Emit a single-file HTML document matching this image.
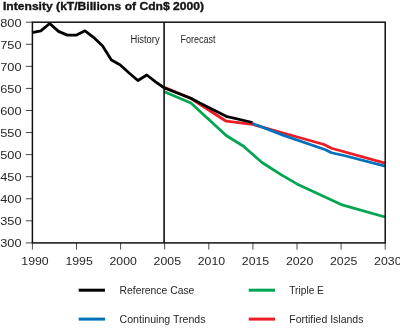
<!DOCTYPE html>
<html><head><meta charset="utf-8">
<style>
html,body{margin:0;padding:0;background:#fff;}
body{width:400px;height:333px;overflow:hidden;}
svg{display:block;will-change:transform;}
text{font-family:"Liberation Sans",sans-serif;fill:#151515;}
.t{fill:#262626;}
.b{stroke:#151515;stroke-width:0.35;}
</style></head>
<body>
<svg width="400" height="333" viewBox="0 0 400 333">

<text class="b" x="3" y="10.1" font-size="11" font-weight="bold" textLength="201" lengthAdjust="spacingAndGlyphs">Intensity (kT/Billions of Cdn$ 2000)</text>
<text class="t" x="21.5" y="26.7" font-size="11" text-anchor="end" textLength="21.3" lengthAdjust="spacingAndGlyphs">800</text>
<text class="t" x="21.5" y="48.77" font-size="11" text-anchor="end" textLength="21.3" lengthAdjust="spacingAndGlyphs">750</text>
<text class="t" x="21.5" y="70.84" font-size="11" text-anchor="end" textLength="21.3" lengthAdjust="spacingAndGlyphs">700</text>
<text class="t" x="21.5" y="92.91" font-size="11" text-anchor="end" textLength="21.3" lengthAdjust="spacingAndGlyphs">650</text>
<text class="t" x="21.5" y="114.98" font-size="11" text-anchor="end" textLength="21.3" lengthAdjust="spacingAndGlyphs">600</text>
<text class="t" x="21.5" y="137.05" font-size="11" text-anchor="end" textLength="21.3" lengthAdjust="spacingAndGlyphs">550</text>
<text class="t" x="21.5" y="159.12" font-size="11" text-anchor="end" textLength="21.3" lengthAdjust="spacingAndGlyphs">500</text>
<text class="t" x="21.5" y="181.19" font-size="11" text-anchor="end" textLength="21.3" lengthAdjust="spacingAndGlyphs">450</text>
<text class="t" x="21.5" y="203.26" font-size="11" text-anchor="end" textLength="21.3" lengthAdjust="spacingAndGlyphs">400</text>
<text class="t" x="21.5" y="225.33" font-size="11" text-anchor="end" textLength="21.3" lengthAdjust="spacingAndGlyphs">350</text>
<text class="t" x="21.5" y="247.4" font-size="11" text-anchor="end" textLength="21.3" lengthAdjust="spacingAndGlyphs">300</text>
<text class="t" x="35.0" y="265" font-size="11" text-anchor="middle" textLength="27.4" lengthAdjust="spacingAndGlyphs">1990</text>
<text class="t" x="79.1" y="265" font-size="11" text-anchor="middle" textLength="27.4" lengthAdjust="spacingAndGlyphs">1995</text>
<text class="t" x="123.2" y="265" font-size="11" text-anchor="middle" textLength="27.4" lengthAdjust="spacingAndGlyphs">2000</text>
<text class="t" x="167.3" y="265" font-size="11" text-anchor="middle" textLength="27.4" lengthAdjust="spacingAndGlyphs">2005</text>
<text class="t" x="211.4" y="265" font-size="11" text-anchor="middle" textLength="27.4" lengthAdjust="spacingAndGlyphs">2010</text>
<text class="t" x="255.5" y="265" font-size="11" text-anchor="middle" textLength="27.4" lengthAdjust="spacingAndGlyphs">2015</text>
<text class="t" x="299.6" y="265" font-size="11" text-anchor="middle" textLength="27.4" lengthAdjust="spacingAndGlyphs">2020</text>
<text class="t" x="343.7" y="265" font-size="11" text-anchor="middle" textLength="27.4" lengthAdjust="spacingAndGlyphs">2025</text>
<text class="t" x="387.8" y="265" font-size="11" text-anchor="middle" textLength="27.4" lengthAdjust="spacingAndGlyphs">2030</text>
<g stroke="#4a4a4a" stroke-width="1.0" fill="none"><path d="M25.8 22.20H32.4M25.8 44.27H32.4M25.8 66.34H32.4M25.8 88.41H32.4M25.8 110.48H32.4M25.8 132.55H32.4M25.8 154.62H32.4M25.8 176.69H32.4M25.8 198.76H32.4M25.8 220.83H32.4M25.8 242.90H32.4"/><path d="M32.40 242.9V249.6M76.50 242.9V249.6M120.60 242.9V249.6M164.70 242.9V249.6M208.80 242.9V249.6M252.90 242.9V249.6M297.00 242.9V249.6M341.10 242.9V249.6M385.20 242.9V249.6"/></g>
<g fill="none" stroke-width="2.8" stroke-linejoin="round">
<polyline stroke="#00a651" points="164.4,91.75 190.9,103.0 226.2,135.5 243.5,146.2 262,162.5 281,174.6 296.9,183.9 341.2,204.6 385,217.0"/>
<polyline stroke="#ed1c24" points="164.4,87.3 190.9,98.5 226.2,121.2 252.6,124.3 285,133.5 324,144.5 331.5,148.25 345,152 385,163.2"/>
<polyline stroke="#0072bc" points="252.6,123.5 285,135.9 325.5,149.75 331.5,152.75 345,155.75 385,166.2"/>
<polyline stroke="#000000" points="32,32.7 40.8,30.9 49.7,23.5 58.5,31.4 67.3,35.1 76.1,35.2 85,30.8 93.8,37.6 102.6,46 111.4,60 120.3,65 129.1,73 137.9,80.5 146.8,75 155.6,81.8 164.4,88.0 190.9,98.3 199.7,103 226.2,116.3 252.6,122.5"/>
</g>
<g stroke="#111111" stroke-width="1.5" fill="none"><rect x="32.4" y="22.2" width="352.8" height="220.70000000000002"/><path d="M164.1 22.2V242.9" stroke-width="1.6"/></g>
<text class="t" x="130.4" y="42.9" font-size="10" textLength="29.2" lengthAdjust="spacingAndGlyphs">History</text>
<text class="t" x="180.5" y="42.9" font-size="10" textLength="35.0" lengthAdjust="spacingAndGlyphs">Forecast</text>
<g stroke-width="3">
<path stroke="#000000" d="M78.7 290.2H105"/>
<path stroke="#0072bc" d="M78.7 319.1H105"/>
<path stroke="#00a651" d="M248.7 290.2H275"/>
<path stroke="#ed1c24" d="M248.7 319.1H275"/>
</g>
<text class="t" x="119.5" y="294.3" font-size="11" textLength="74.9" lengthAdjust="spacingAndGlyphs">Reference Case</text>
<text class="t" x="119.5" y="323" font-size="11" textLength="86.0" lengthAdjust="spacingAndGlyphs">Continuing Trends</text>
<text class="t" x="289.3" y="294.3" font-size="11" textLength="34.6" lengthAdjust="spacingAndGlyphs">Triple E</text>
<text class="t" x="289.3" y="323" font-size="11" textLength="74.1" lengthAdjust="spacingAndGlyphs">Fortified Islands</text>
</svg>
</body></html>
